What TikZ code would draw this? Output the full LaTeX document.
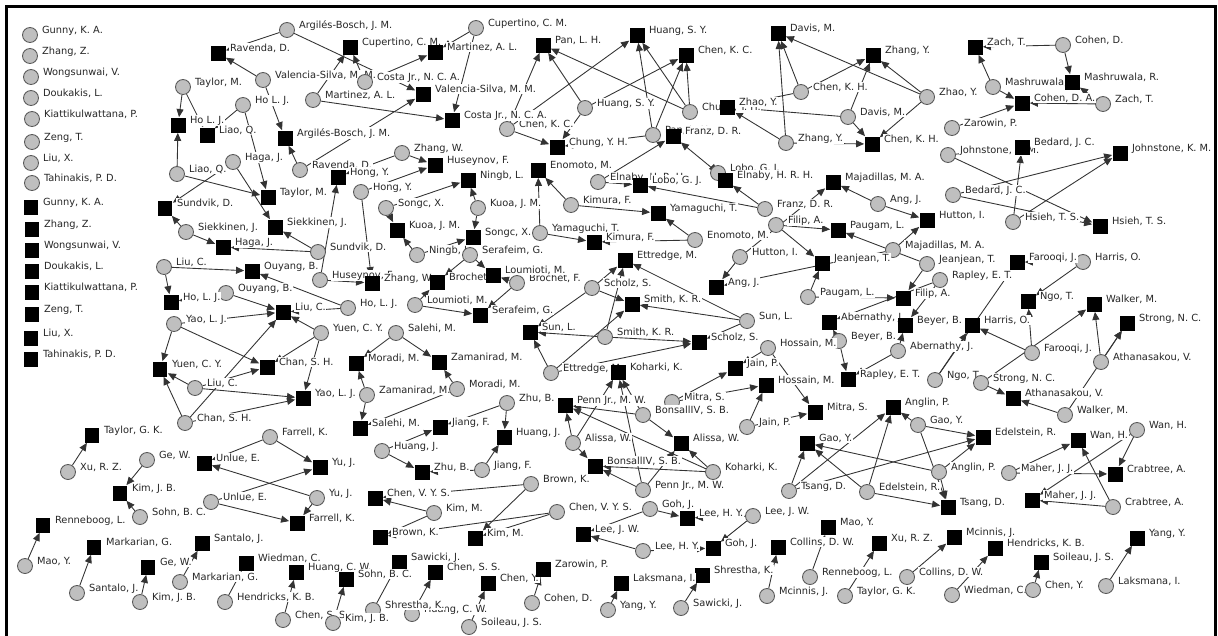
\documentclass[tikz,border=0pt]{standalone}
\usepackage{fontspec}
\newfontfamily\netfont{DejaVu Sans}
\usetikzlibrary{arrows.meta,backgrounds}

\begin{document}
\begin{tikzpicture}[x=0.02cm, y=-0.02cm,
  every node/.style={font=\netfont\fontsize{5.6}{6.5}\selectfont},
  cnode/.style={circle, draw=black!65, fill=black!25, minimum size=0.3cm, inner sep=0pt, line width=0.5pt},
  snode/.style={rectangle, fill=black, minimum size=0.3cm, inner sep=0pt},
  lbl/.style={anchor=base west, fill=white, inner sep=0.4pt, text=black!85},
  link/.style={draw=black!80, line width=0.5pt, -{Triangle[length=4.6pt,width=4pt]}}]
  \useasboundingbox (0,0) rectangle (1218,636);
  % frame
  \draw[line width=1.7pt] (6.5,636) -- (6.5,6.5) -- (1215,6.5) -- (1215,636);
  % authors (circles)
  \foreach \n/\x/\y/\t in {g1/30/35/{Gunny, K. A.}, g2/30/56/{Zhang, Z.}, g3/31/77/{Wongsunwai, V.},
    g4/31/98/{Doukakis, L.}, g5/32/119/{Kiattikulwattana, P.}, g6/32/142/{Zeng, T.}, g7/31/163/{Liu, X.},
    g8/32/183/{Tahinakis, P. D.},
    ab1/287/30/{Argilés-Bosch, J. M.}, tm1/183/87/{Taylor, M.}, vs1/263/80/{Valencia-Silva, M. M.},
    hl2/243/105/{Ho L. J.}, lq2/177/174/{Liao, Q.}, hg1/233/162/{Haga, J.}, rv2/300/170/{Ravenda, D.},
    cu2/476/28/{Cupertino, C. M.}, cj1/365/82/{Costa Jr., N. C. A.}, ma2/313/100/{Martinez, A. L.},
    zw1/402/153/{Zhang, W.}, hy2/361/192/{Hong, Y.}, sx1/386/208/{Songc, X.}, kj2/478/208/{Kuoa, J. M.},
    hs2/585/108/{Huang, S. Y.}, ck2/507/129/{Chen, K. C.}, cy2/690/112/{Chung, Y. H.}, pl2/653/135/{Pan, L. H.},
    kf1/571/205/{Kimura, F.}, el1/598/182/{Elnaby, H. R. H.}, lo2/718/173/{Lobo, G. J.}, fr2/765/209/{Franz, D. R.},
    ya2/540/233/{Yamaguchi, T.}, en2/695/240/{Enomoto, M.}, kh1/801/92/{Chen, K. H.}, dm2/848/117/{Davis, M.},
    zy2/786/143/{Zhang, Y.}, zh2/927/97/{Zhao, Y.}, cd1/1063/45/{Cohen, D.}, mr2/993/87/{Mashruwala, R.},
    zt2/1103/104/{Zach, T.}, zp2/952/128/{Zarowin, P.}, jk2/948/155/{Johnstone, K. M.}, bj2/953/195/{Bedard, J. C.},
    ht2/1013/222/{Hsieh, T. S.}, aj1/878/204/{Ang, J.}, mj2/893/250/{Majadillas, M. A.}, jt2/927/264/{Jeanjean, T.},
    fa2/776/225/{Filip, A.}, hi2/740/257/{Hutton, I.}, pg2/808/297/{Paugam, L.}, re2/940/280/{Rapley, E. T.},
    sk2/186/232/{Siekkinen, J.}, sv2/318/252/{Sundvik, D.}, lc1/164/267/{Liu, C.}, ob2/226/293/{Ouyang, B.},
    yl1/174/324/{Yao, L. J.}, lc3/195/388/{Liu, C.}, cs2/185/423/{Chan, S. H.}, hl4/348/308/{Ho, L. J.},
    yc2/321/333/{Yuen, C. Y.}, nl2/417/255/{Ningb, L.}, hu2/320/280/{Huseynov, F.}, sg2/470/255/{Serafeim, G.},
    bf2/517/283/{Brochet, F.}, lm2/415/305/{Loumioti, M.}, sm1/396/333/{Salehi, M.}, zm2/367/395/{Zamanirad, M.},
    mm2/457/389/{Moradi, M.}, sz2/592/288/{Scholz, S.}, kr2/605/337/{Smith, K. R.}, sl3/747/321/{Sun, L.},
    et2/551/373/{Ettredge, M.}, by2/839/341/{Beyer, B.}, an2/898/351/{Abernathy, J.}, hm2/768/348/{Hossain, M.},
    ms2/672/402/{Mitra, S.}, jp2/747/427/{Jain, P.}, ho2/1083/262/{Harris, O.}, fj2/1032/353/{Farooqi, J.},
    av2/1101/362/{Athanasakou, V.}, nt2/935/380/{Ngo, T.}, sn2/981/383/{Strong, N. C.}, wm2/1065/415/{Walker, M.},
    zu1/507/403/{Zhu, B.}, aw2/573/443/{Alissa, W.}, bo2/643/415/{BonsallIV, S. B.}, kk2/713/472/{Koharki, K.},
    pj2/643/490/{Penn Jr., M. W.}, gy2/918/425/{Gao, Y.}, ap2/939/472/{Anglin, P.}, td2/789/491/{Tsang, D.},
    er2/867/492/{Edelstein, R.}, wh2/1137/430/{Wan, H.}, mh2/1009/473/{Maher, J. J.}, ca2/1113/507/{Crabtree, A.},
    xu2/68/472/{Xu, R. Z.}, gw2/147/460/{Ge, W.}, fk2/270/437/{Farrell, K.}, sb2/140/517/{Sohn, B. C.},
    ue2/211/502/{Unlue, E.}, yj2/317/498/{Yu, J.}, my2/25/566/{Mao, Y.}, sj2/77/593/{Santalo, J.},
    kb2/140/602/{Kim, J. B.}, mg2/180/582/{Markarian, G.}, hk2/225/602/{Hendricks, K. B.}, ss2/283/620/{Chen, S. S.},
    hn2/382/451/{Huang, J.}, jf2/482/470/{Jiang, F.}, bk2/531/484/{Brown, K.}, km2/434/513/{Kim, M.},
    cv2/557/512/{Chen, V. Y. S.}, cd2/532/603/{Cohen, D.}, hw2/412/614/{Huang, C. W.}, sh2/373/610/{Shrestha, K.},
    kb3/333/623/{Kim, J. B.}, so2/469/627/{Soileau, J. S.}, gj2/650/509/{Goh, J.}, lw2/753/516/{Lee, J. W.},
    lh2/643/551/{Lee, H. Y.}, yy2/608/610/{Yang, Y.}, sw2/681/608/{Sawicki, J.}, mc2/767/596/{Mcinnis, J.},
    rl2/810/577/{Renneboog, L.}, tg2/845/596/{Taylor, G. K.}, co2/907/577/{Collins, D. W.}, wc2/952/595/{Wiedman, C.},
    cn2/1033/590/{Chen, Y.}, li2/1106/586/{Laksmana, I.}}
  {
    \node[cnode] (\n) at (\x,\y) {};
    \node[lbl] at (\x+11,\y-2) {\t};
  }
  % co-authors (squares)
  \foreach \n/\x/\y/\t in {g9/31/207/{Gunny, K. A.}, g10/32/229/{Zhang, Z.}, g11/32/250/{Wongsunwai, V.},
    g12/32/271/{Doukakis, L.}, g13/32/292/{Kiattikulwattana, P.}, g14/32/314/{Zeng, T.}, g15/31/338/{Liu, X.},
    g16/31/359/{Tahinakis, P. D.},
    rv1/218/53/{Ravenda, D.}, hl1/178/125/{Ho L. J.}, lq1/207/135/{Liao, Q.}, ab2/285/138/{Argilés-Bosch, J. M.},
    tm2/268/197/{Taylor, M.}, sv1/165/208/{Sundvik, D.}, cu1/350/47/{Cupertino, C. M.}, ma1/435/52/{Martinez, A. L.},
    vs2/423/94/{Valencia-Silva, M. M.}, cj2/452/120/{Costa Jr., N. C. A.}, hu1/435/165/{Huseynov, F.},
    hy1/338/177/{Hong, Y.}, nl1/468/180/{Ningb, L.}, pl1/543/45/{Pan, L. H.}, hs1/637/35/{Huang, S. Y.},
    ck1/686/55/{Chen, K. C.}, cy1/557/147/{Chung, Y. H.}, zh1/727/107/{Zhao, Y.}, fr1/673/136/{Franz, D. R.},
    en1/538/170/{Enomoto, M.}, lo1/640/185/{Lobo, G. J.}, el2/725/180/{Elnaby, H. R. H.}, ya1/658/213/{Yamaguchi, T.},
    kf2/594/242/{Kimura, F.}, dm1/778/33/{Davis, M.}, zy1/873/55/{Zhang, Y.}, kh2/872/144/{Chen, K. H.},
    zt1/975/47/{Zach, T.}, mr1/1072/82/{Mashruwala, R.}, cda/1022/103/{Cohen, D. A.}, bj1/1022/147/{Bedard, J. C.},
    jk1/1120/153/{Johnstone, K. M.}, ht1/1100/226/{Hsieh, T. S.}, mj1/833/182/{Majadillas, M. A.},
    hi1/927/220/{Hutton, I.}, pg1/838/230/{Paugam, L.}, jt1/822/263/{Jeanjean, T.}, aj2/716/287/{Ang, J.},
    fa1/903/298/{Filip, A.}, hg2/223/247/{Haga, J.}, sk1/275/227/{Siekkinen, J.}, ob1/252/271/{Ouyang, B.},
    hl3/171/302/{Ho, L. J.}, lc2/283/312/{Liu, C.}, yc1/160/369/{Yuen, C. Y.}, cs1/267/367/{Chan, S. H.},
    yl2/303/398/{Yao, L. J.}, kj1/397/230/{Kuoa, J. M.}, zw2/372/283/{Zhang, W.}, sx2/473/237/{Songc, X.},
    bf1/437/282/{Brochet, F.}, lm1/493/275/{Loumioti, M.}, sg1/480/315/{Serafeim, G.}, mm1/356/363/{Moradi, M.},
    zm1/439/362/{Zamanirad, M.}, et1/625/260/{Ettredge, M.}, kr1/632/304/{Smith, K. R.}, sl1/530/332/{Sun, L.},
    sz1/699/342/{Scholz, S.}, kk1/618/372/{Koharki, K.}, an1/829/322/{Abernathy, J.}, re1/848/379/{Rapley, E. T.},
    by1/905/325/{Beyer, B.}, jp1/735/368/{Jain, P.}, hm1/766/385/{Hossain, M.}, ms1/815/412/{Mitra, S.},
    fj1/1017/262/{Farooqi, J.}, nt1/1028/301/{Ngo, T.}, wm1/1094/304/{Walker, M.}, sn1/1127/323/{Strong, N. C.},
    ho1/972/325/{Harris, O.}, av1/1013/398/{Athanasakou, V.}, pj1/565/405/{Penn Jr., M. W.},
    bo1/595/466/{BonsallIV, S. B.}, aw1/681/443/{Alissa, W.}, ap1/893/407/{Anglin, P.}, gy1/807/443/{Gao, Y.},
    er1/983/437/{Edelstein, R.}, td1/948/507/{Tsang, D.}, wh1/1078/440/{Wan, H.}, ca1/1115/474/{Crabtree, A.},
    mh1/1032/500/{Maher, J. J.}, tg1/92/435/{Taylor, G. K.}, ue1/204/463/{Unlue, E.}, kb1/120/493/{Kim, J. B.},
    fk1/297/523/{Farrell, K.}, yj1/320/467/{Yu, J.}, rl1/43/525/{Renneboog, L.}, mg1/94/547/{Markarian, G.},
    sj1/202/543/{Santalo, J.}, gw1/148/567/{Ge, W.}, wc1/246/563/{Wiedman, C.}, hw1/296/572/{Huang, C. W.},
    sm2/360/428/{Salehi, M.}, jf1/440/427/{Jiang, F.}, hn1/504/437/{Huang, J.}, zu2/422/472/{Zhu, B.},
    cv1/375/498/{Chen, V. Y. S.}, bk1/380/537/{Brown, K.}, km1/475/538/{Kim, M.}, lw1/583/534/{Lee, J. W.},
    sw1/399/562/{Sawicki, J.}, ss1/435/572/{Chen, S. S.}, cn1/488/583/{Chen, Y.}, zp1/543/569/{Zarowin, P.},
    sb1/346/579/{Sohn, B. C.}, lh1/687/518/{Lee, H. Y.}, gj1/713/548/{Goh, J.}, sh1/702/575/{Shrestha, K.},
    li1/621/583/{Laksmana, I.}, co1/778/547/{Collins, D. W.}, my1/828/527/{Mao, Y.}, xu1/879/543/{Xu, R. Z.},
    mc1/954/537/{Mcinnis, J.}, hk1/995/548/{Hendricks, K. B.}, so1/1041/562/{Soileau, J. S.}, yy1/1137/538/{Yang, Y.}}
  {
    \node[snode] (\n) at (\x,\y) {};
    \node[lbl] at (\x+11,\y-2) {\t};
  }
  % ties: author -> co-author
  \begin{pgfonlayer}{background}
  \foreach \a/\b in {ab1/rv1, ab1/vs2, rv2/ab2, rv2/vs2, vs1/rv1, vs1/ab2,
    cu2/ma1, cu2/cj2, cj1/ma1, cj1/cu1, ma2/cu1, ma2/cj2,
    tm1/hl1, tm1/lq1, hl2/lq1, hl2/tm2, lq2/hl1, lq2/tm2,
    hg1/sk1, hg1/sv1, sk2/hg2, sk2/sv1, sv2/sk1, sv2/hg2,
    zw1/hu1, zw1/hy1, hy2/hu1, hy2/zw2, hu2/zw2, hu2/hy1,
    sx1/nl1, sx1/kj1, kj2/nl1, kj2/sx2, nl2/kj1, nl2/sx2,
    sg2/lm1, sg2/bf1, bf2/sg1, bf2/lm1, lm2/sg1, lm2/bf1,
    sm1/mm1, sm1/zm1, zm2/mm1, zm2/sm2, mm2/zm1, mm2/sm2,
    lc1/ob1, lc1/hl3, ob2/lc2, ob2/hl3, hl4/ob1, hl4/lc2,
    lc3/yc1, lc3/cs1, lc3/yl2, yl1/lc2, yl1/yc1, yl1/cs1, yc2/lc2, yc2/cs1, yc2/yl2, cs2/yc1, cs2/lc2, cs2/yl2,
    hs2/pl1, hs2/cy1, hs2/ck1, ck2/pl1, ck2/cy1, ck2/hs1, cy2/hs1, cy2/ck1, cy2/pl1, pl2/hs1, pl2/ck1, pl2/cy1,
    el1/fr1, el1/lo1, lo2/fr1, lo2/el2, fr2/el2, fr2/lo1,
    kf1/en1, kf1/ya1, ya2/en1, ya2/kf2, en2/ya1, en2/kf2,
    kh1/dm1, kh1/zy1, kh1/zh1, dm2/zy1, dm2/kh2, dm2/zh1, zy2/dm1, zy2/kh2, zy2/zh1, zh2/dm1, zh2/zy1, zh2/kh2,
    cd1/zt1, cd1/mr1, mr2/zt1, mr2/cda, zt2/cda, zt2/mr1, zp2/cda, cd2/zp1,
    jk2/bj1, jk2/ht1, bj2/ht1, bj2/jk1, ht2/bj1, ht2/jk1,
    aj1/mj1, aj1/hi1, mj2/hi1, mj2/aj2, hi2/aj2, hi2/mj1,
    fa2/pg1, fa2/jt1, pg2/jt1, pg2/fa1, jt2/pg1, jt2/fa1,
    et2/sz1, et2/kr1, et2/sl1, sz2/et1, sz2/kr1, sz2/sl1, kr2/et1, kr2/sz1, kr2/sl1, sl3/et1, sl3/kr1, sl3/sz1,
    aw2/pj1, aw2/bo1, aw2/kk1, bo2/pj1, bo2/aw1, bo2/kk1, kk2/aw1, kk2/bo1, kk2/pj1, pj2/aw1, pj2/bo1, pj2/kk1,
    hm2/jp1, hm2/ms1, ms2/jp1, ms2/hm1, jp2/hm1, jp2/ms1,
    by2/re1, by2/an1, an2/by1, an2/re1, re2/by1, re2/an1,
    ho2/fj1, ho2/nt1, fj2/ho1, fj2/nt1, nt2/ho1, nt2/fj1,
    av2/wm1, av2/sn1, sn2/av1, sn2/wm1, wm2/av1, wm2/sn1,
    gy2/er1, gy2/ap1, gy2/td1, ap2/er1, ap2/td1, ap2/gy1, td2/gy1, td2/ap1, td2/er1, er2/gy1, er2/ap1, er2/td1,
    mh2/wh1, mh2/ca1, wh2/ca1, wh2/mh1, ca2/mh1, ca2/wh1,
    fk2/ue1, fk2/yj1, ue2/fk1, ue2/yj1, yj2/ue1, yj2/fk1,
    zu1/hn1, zu1/jf1, hn2/zu2, hn2/jf1, jf2/zu2, jf2/hn1,
    km2/cv1, km2/bk1, bk2/cv1, bk2/km1, cv2/km1, cv2/bk1,
    gj2/lh1, gj2/lw1, lw2/lh1, lw2/gj1, lh2/lw1, lh2/gj1,
    xu2/tg1, tg2/xu1, gw2/kb1, kb2/gw1, sb2/kb1, kb3/sb1, my2/rl1, rl2/my1, sj2/mg1, mg2/sj1,
    hk2/wc1, wc2/hk1, ss2/hw1, hw2/ss1, sh2/sw1, sw2/sh1, so2/cn1, cn2/so1, yy2/li1, li2/yy1, mc2/co1, co2/mc1}
    \draw[link] (\a) -- (\b);
  \end{pgfonlayer}
\end{tikzpicture}
\end{document}
